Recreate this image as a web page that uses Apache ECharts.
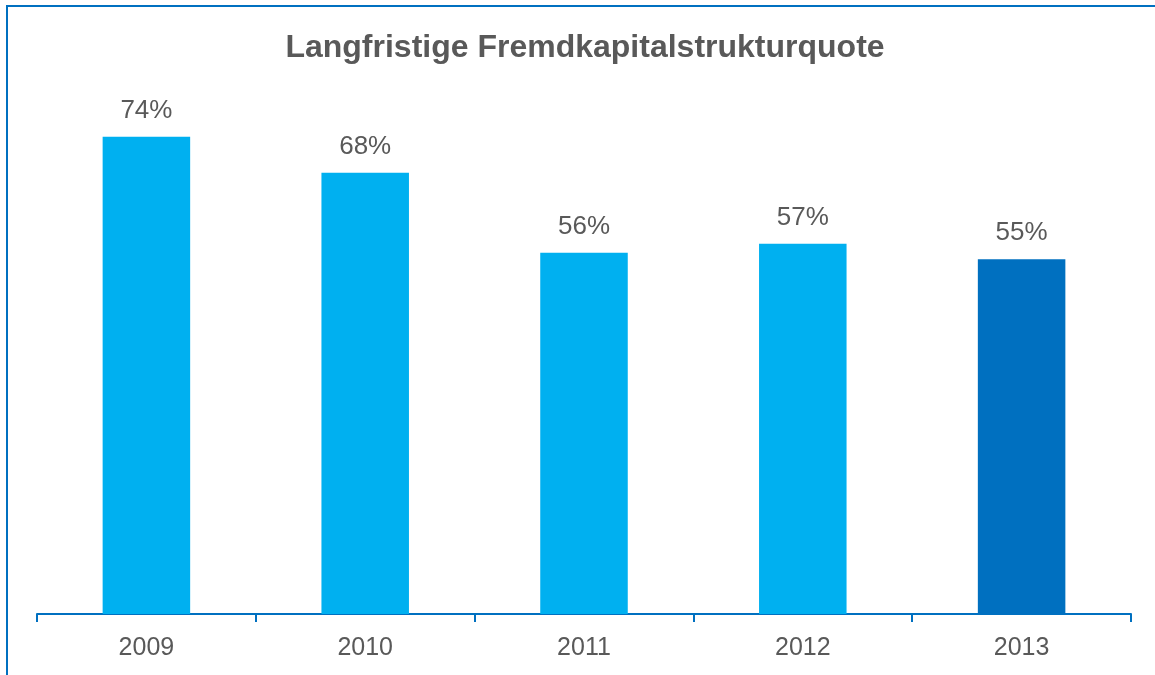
<html>
<head>
    <meta charset='utf-8'/>
    <title>Langfristige Fremdkapitalstrukturquote</title>
    <script src="https://cdn.jsdelivr.net/npm/echarts@6/dist/echarts.min.js"></script>
    <style>
        body {
            margin: 0;
            padding: 0;
            background: #fff;
        }

        #frame {
            position: absolute;
            left: 6px;
            top: 5px;
            width: 1160px;
            height: 680px;
            border-left: 2px solid #0070C0;
            border-top: 2px solid #0070C0;
        }

        #chart {
            position: absolute;
            left: 0;
            top: 0;
            width: 1155px;
            height: 675px;
        }
    </style>
</head>
<body>
<div id='frame'></div>
<div id='chart'></div>
<script type="text/javascript">
    var years = ['2009', '2010', '2011', '2012', '2013'];
    // bar heights as measured; labels show the rounded percent
    var quote = [74, 68.4, 56, 57.4, 55];
    var barColors = ['#00B0F0', '#00B0F0', '#00B0F0', '#00B0F0', '#0070C0'];

    var chart = echarts.init(document.getElementById('chart'));

    var option = {
        animation: false,
        title: {
            text: 'Langfristige Fremdkapitalstrukturquote',
            left: 580,
            textAlign: 'center',
            top: 27,
            textStyle: {
                fontFamily: 'Liberation Sans, Arial',
                fontSize: 32,
                fontWeight: 'bold',
                color: '#595959'
            }
        },
        grid: {
            left: 37,
            right: 24,
            top: 98,
            bottom: 61
        },
        xAxis: {
            type: 'category',
            data: years,
            axisLine: {lineStyle: {color: '#0070C0', width: 2}},
            axisTick: {show: true, length: 8, lineStyle: {color: '#0070C0', width: 2}},
            axisLabel: {
                margin: 22,
                fontFamily: 'Liberation Sans, Arial',
                fontSize: 25,
                color: '#595959'
            }
        },
        yAxis: {
            type: 'value',
            min: 0,
            max: 80,
            show: false
        },
        series: [{
            type: 'bar',
            barWidth: '40%',
            data: quote.map(function (v, i) {
                return {value: v, itemStyle: {color: barColors[i]}};
            }),
            label: {
                show: true,
                position: 'top',
                distance: 13,
                formatter: function (p) {
                    return Math.round(p.value) + '%';
                },
                fontFamily: 'Liberation Sans, Arial',
                fontSize: 26,
                color: '#595959'
            }
        }]
    };

    chart.setOption(option);
</script>
</body>
</html>
